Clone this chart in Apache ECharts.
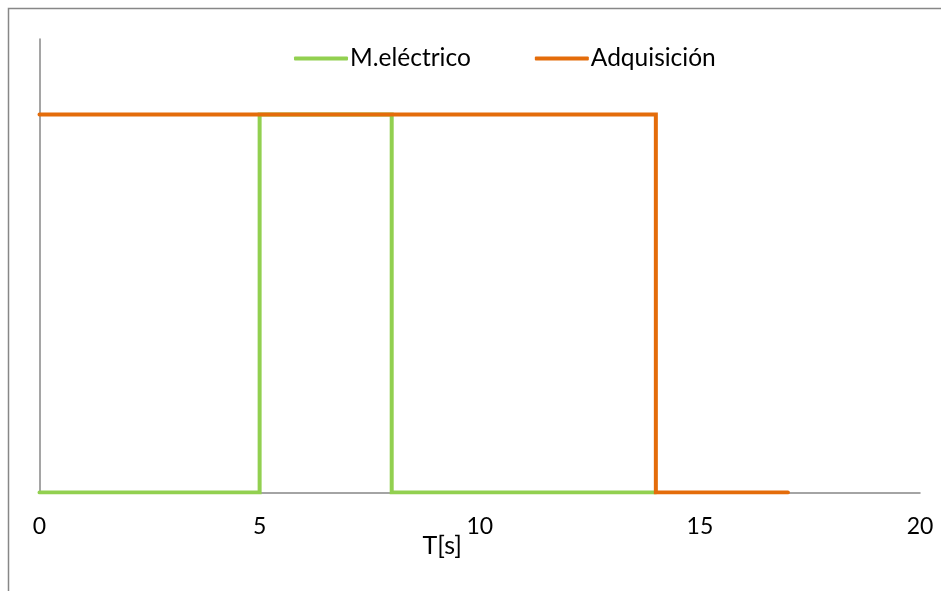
<!DOCTYPE html>
<html>
<head>
<meta charset="utf-8">
<script src="https://cdn.jsdelivr.net/npm/echarts@6/dist/echarts.min.js"></script>
<style>html,body{margin:0;padding:0;background:#fff;}#c{width:941px;height:591px;}</style>
</head>
<body>
<div id="c"></div>
<script>
const seriesNames = ['M.eléctrico', 'Adquisición'];
const motorData = [[0, 0], [5, 0], [5, 1], [8, 1], [8, 0], [14, 0]];
const adqData = [[0, 1], [14, 1], [14, 0], [17, 0]];
const xTicks = [0, 5, 10, 15, 20];
const xName = 'T[s]';

const chart = echarts.init(document.getElementById('c'));
const font = 'Lato, "Open Sans", sans-serif';
chart.setOption({
  animation: false,
  backgroundColor: '#fff',
  graphic: [{
    type: 'rect', silent: true,
    shape: { x: 8.5, y: 8.5, width: 1000, height: 1000 },
    style: { fill: 'none', stroke: '#878787', lineWidth: 1.5 }
  }],
  legend: {
    left: 294, top: 46, padding: 0,
    icon: 'roundRect', itemWidth: 54, itemHeight: 4, itemGap: 64,
    textStyle: { fontFamily: font, fontSize: 24.5, color: '#000', padding: [0, 0, 0, -3], lineHeight: 24 },
    data: seriesNames
  },
  grid: { left: 39.5, right: 21, top: 39, bottom: 98.5, containLabel: false },
  xAxis: {
    type: 'value', min: xTicks[0], max: xTicks[xTicks.length - 1], interval: 5,
    name: xName, nameLocation: 'middle', nameGap: 41, nameMoveOverlap: false,
    nameTextStyle: { fontFamily: font, fontSize: 25, color: '#000', padding: [0, 75, 0, 0] },
    axisLine: { show: true, lineStyle: { color: '#878787', width: 1.5 } },
    axisTick: { show: false },
    splitLine: { show: false },
    axisLabel: { margin: 23, fontFamily: font, fontSize: 23, color: '#000' }
  },
  yAxis: {
    type: 'value', min: 0, max: 1.2,
    axisLine: { show: true, lineStyle: { color: '#878787', width: 1.5 } },
    axisTick: { show: false },
    splitLine: { show: false },
    axisLabel: { show: false }
  },
  series: [
    { name: seriesNames[0], type: 'line', data: motorData, showSymbol: false, symbol: 'none',
      color: '#92D050', lineStyle: { width: 4, cap: 'round', join: 'miter' } },
    { name: seriesNames[1], type: 'line', data: adqData, showSymbol: false, symbol: 'none',
      color: '#E46C0A', lineStyle: { width: 4, cap: 'round', join: 'miter' } }
  ]
});
</script>
</body>
</html>
